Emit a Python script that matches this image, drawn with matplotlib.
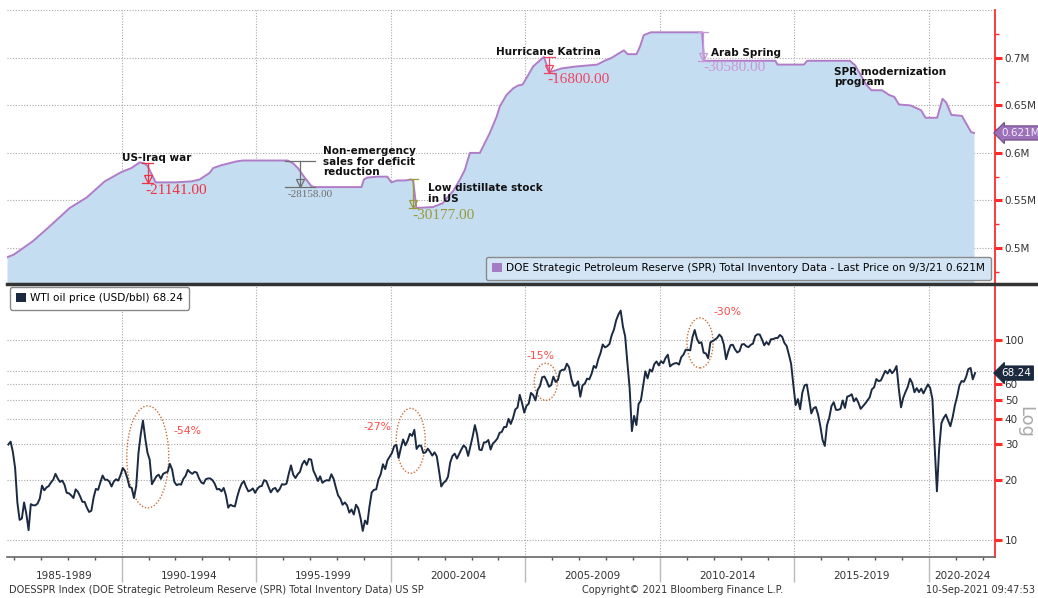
import numpy as np
import pandas as pd
import matplotlib
matplotlib.use("Agg")
import matplotlib.pyplot as plt
from matplotlib import transforms as mtransforms
from matplotlib.lines import Line2D
from matplotlib.patches import Patch, Ellipse
from matplotlib.ticker import NullLocator, NullFormatter

# --- SPR total inventory (M = million thousand-barrels) ---
spr_year = [1985.74, 1986.0, 1986.7, 1987.3, 1988.07, 1988.7, 1989.37, 1990.0, 1990.36, 1990.67,
            1990.85, 1990.97, 1991.26, 1992.0, 1992.6, 1992.9, 1993.27, 1993.4, 1993.7, 1994.26,
            1994.5, 1996.17, 1996.37, 1996.55, 1996.8, 1997.05, 1997.17, 1998.91, 1999.0, 1999.13,
            1999.5, 1999.87, 2000.02, 2000.24, 2000.55, 2000.74, 2000.83, 2000.95, 2001.57, 2001.93,
            2002.07, 2002.32, 2002.57, 2002.75, 2002.94, 2003.31, 2003.68, 2003.93, 2004.05, 2004.3,
            2004.55, 2004.73, 2004.9, 2005.29, 2005.56, 2005.69, 2005.89, 2006.02, 2006.35, 2006.88,
            2007.67, 2007.94, 2008.2, 2008.54, 2008.66, 2008.8, 2009.13, 2009.26, 2009.4, 2009.66,
            2011.57, 2011.64, 2011.95, 2014.29, 2014.37, 2015.35, 2015.47, 2017.06, 2017.26, 2017.46,
            2017.66, 2017.86, 2018.25, 2018.52, 2018.71, 2018.88, 2019.31, 2019.7, 2019.87, 2020.3,
            2020.5, 2020.64, 2020.83, 2021.22, 2021.56, 2021.67]
spr_level = [0.490, 0.493, 0.507, 0.522, 0.542, 0.553, 0.570, 0.580, 0.584, 0.590,
             0.589, 0.586, 0.569, 0.569, 0.570, 0.572, 0.579, 0.584, 0.587, 0.591,
             0.592, 0.592, 0.589, 0.584, 0.574, 0.565, 0.564, 0.564, 0.572, 0.574,
             0.575, 0.575, 0.569, 0.571, 0.571, 0.572, 0.571, 0.542, 0.543, 0.547,
             0.552, 0.560, 0.572, 0.582, 0.600, 0.600, 0.621, 0.638, 0.649, 0.661,
             0.668, 0.671, 0.672, 0.691, 0.698, 0.701, 0.685, 0.686, 0.689, 0.691,
             0.693, 0.697, 0.700, 0.706, 0.708, 0.704, 0.704, 0.712, 0.724, 0.727,
             0.727, 0.697, 0.697, 0.697, 0.693, 0.693, 0.697, 0.697, 0.692, 0.682,
             0.672, 0.666, 0.666, 0.661, 0.659, 0.651, 0.650, 0.645, 0.637, 0.637,
             0.657, 0.653, 0.640, 0.639, 0.622, 0.621]

# --- WTI oil price, monthly from Oct 1985 (USD/bbl) ---
wti_start = "1985-10-01"
wti_price = [
    30.0, 31.0, 27.5,
    22.9, 15.4, 12.6, 12.8, 15.4, 13.5, 11.2, 15.1, 14.9, 14.9, 15.2, 16.1,
    18.7, 17.7, 18.3, 18.6, 19.4, 20.0, 21.4, 20.3, 19.5, 19.8, 18.9, 17.2,
    17.1, 16.7, 16.2, 17.9, 17.4, 16.5, 15.5, 15.5, 14.5, 13.8, 14.0, 16.3,
    18.0, 17.8, 19.4, 21.0, 20.0, 20.0, 19.6, 18.5, 19.6, 20.1, 19.8, 21.1,
    22.9, 22.1, 20.4, 18.4, 18.2, 16.2, 18.6, 27.2, 33.7, 39.5, 32.3, 27.3,
    25.2, 19.0, 19.9, 20.8, 21.2, 20.2, 21.4, 21.7, 21.9, 24.0, 22.5, 19.5,
    18.8, 19.0, 18.9, 20.2, 20.9, 22.4, 21.8, 21.4, 21.9, 21.7, 20.3, 19.4,
    19.1, 20.1, 20.3, 20.3, 19.9, 19.1, 17.9, 18.0, 17.5, 18.2, 16.7, 14.5,
    15.0, 14.8, 14.7, 16.4, 17.9, 19.1, 19.7, 18.4, 17.5, 17.7, 18.1, 17.2,
    18.0, 18.5, 18.6, 19.9, 19.7, 18.4, 17.3, 18.0, 18.2, 17.4, 18.0, 19.0,
    18.9, 19.1, 21.4, 23.6, 21.2, 20.4, 21.3, 21.9, 23.9, 24.9, 23.7, 25.4,
    25.2, 22.2, 21.0, 19.7, 20.8, 19.3, 19.7, 19.9, 19.8, 21.3, 20.2, 18.3,
    16.7, 16.1, 15.0, 15.4, 14.9, 13.7, 14.2, 13.4, 15.0, 14.4, 12.9, 11.1,
    12.5, 12.0, 14.7, 17.3, 17.8, 17.9, 20.1, 21.3, 23.9, 22.6, 25.0, 26.1,
    27.2, 29.4, 29.9, 25.7, 28.8, 31.8, 29.7, 31.3, 33.9, 33.1, 35.5, 28.5,
    29.6, 29.6, 27.2, 27.4, 28.6, 27.6, 26.4, 27.4, 26.2, 22.2, 18.5, 19.3,
    19.7, 20.7, 24.4, 26.3, 27.0, 25.5, 26.9, 28.4, 29.7, 28.9, 26.3, 29.4,
    32.9, 37.5, 33.6, 28.3, 28.1, 30.7, 30.8, 31.6, 28.3, 30.3, 31.1, 32.1,
    34.3, 34.7, 36.7, 36.7, 40.3, 38.0, 40.7, 44.9, 45.9, 53.1, 48.5, 43.3,
    46.8, 48.0, 54.3, 53.0, 49.8, 56.3, 58.7, 65.0, 65.6, 62.4, 58.3, 59.4,
    65.5, 61.6, 62.9, 69.7, 70.9, 70.9, 76.0, 73.0, 63.8, 58.9, 59.1, 62.0,
    52.0, 59.3, 60.4, 64.0, 63.5, 67.5, 74.1, 72.4, 79.9, 85.8, 94.8, 91.7,
    93.0, 95.4, 105.5, 112.6, 125.4, 133.9, 140.0, 116.7, 104.1, 76.6, 57.3, 35.0,
    41.7, 37.5, 47.9, 49.7, 59.0, 69.6, 64.2, 71.1, 69.4, 75.7, 78.0, 74.5,
    78.3, 76.4, 81.2, 84.3, 73.7, 75.3, 76.3, 76.6, 75.2, 81.9, 84.3, 89.2,
    89.2, 88.6, 102.9, 112.0, 101.3, 96.3, 97.3, 86.3, 85.5, 81.0, 97.2, 98.6,
    100.3, 102.2, 106.2, 103.3, 94.7, 80.0, 87.9, 94.1, 94.5, 89.5, 86.5, 87.9,
    94.8, 95.3, 92.9, 92.0, 94.5, 95.8, 104.6, 106.6, 106.3, 100.5, 93.9, 97.6,
    94.6, 100.8, 100.8, 102.1, 102.2, 105.8, 103.6, 96.5, 93.2, 84.4, 75.8, 59.3,
    47.2, 50.6, 45.0, 54.5, 59.3, 59.8, 50.9, 42.9, 45.5, 46.2, 42.4, 37.2,
    31.7, 29.5, 37.5, 40.8, 46.7, 48.8, 44.7, 44.7, 45.2, 49.8, 45.7, 52.0,
    52.5, 53.5, 49.3, 51.1, 48.5, 45.2, 46.6, 48.0, 49.8, 51.6, 56.6, 57.9,
    63.7, 62.2, 62.7, 66.3, 70.0, 67.9, 71.0, 68.1, 70.2, 74.0, 57.0, 46.0,
    51.4, 54.9, 58.2, 64.0, 60.8, 54.7, 57.4, 54.8, 57.0, 54.0, 57.0, 59.9,
    57.5, 50.5, 29.2, 17.5, 28.6, 38.3, 40.7, 42.3, 39.6, 37.0, 41.0, 47.0,
    52.0, 59.0, 62.3, 61.7, 65.2, 71.4, 72.4, 63.5, 68.24,
]

# --- event annotations ---
event_name = ["US-Iraq war", "Non-emergency\nsales for deficit\nreduction",
              "Low distillate stock\nin US", "Hurricane Katrina", "Arab Spring"]
event_year = [1990.97, 1996.62, 2000.83, 2005.89, 2011.6]
event_top = [0.5895, 0.592, 0.572, 0.7014, 0.7276]
event_change = [-21141.00, -28158.00, -30177.00, -16800.00, -30580.00]
swing_pct = ["-54%", "-27%", "-15%", "-30%"]
period_start = [1985, 1990, 1995, 2000, 2005, 2010, 2015, 2020]

# convert monthly dates to decimal years (mid-month)
dates = pd.date_range(wti_start, periods=len(wti_price), freq="MS")
wti_year = dates.year + (dates.month - 0.5) / 12.0

W, H = 1038, 598
fig = plt.figure(figsize=(W / 100, H / 100), dpi=100)
fig.patch.set_facecolor("white")

def fx(px):
    return px / W

def fy(py):
    return 1 - py / H

ax_top = fig.add_axes([fx(7), fy(283), fx(995) - fx(7), fy(10) - fy(283)])
ax_bot = fig.add_axes([fx(7), fy(557), fx(995) - fx(7), fy(285) - fy(557)])

RED = "#ff2a2a"
GRID = dict(color="#a8a8a8", linestyle=(0, (1, 1.5)), linewidth=0.8)
XLIM = (1985.74, 2022.45)
five_years = list(range(1990, 2021, 5))

for ax in (ax_top, ax_bot):
    ax.set_xlim(*XLIM)
    for s in ("left", "top"):
        ax.spines[s].set_visible(False)
    ax.spines["right"].set_color(RED)
    ax.spines["right"].set_linewidth(1.3)
    ax.yaxis.tick_right()
    ax.set_xticks(five_years)
    ax.set_xticklabels([])
    ax.grid(True, which="major", **GRID)
    ax.set_axisbelow(True)

# ---------- top panel: SPR inventory ----------
ax_top.spines["bottom"].set_visible(False)
ax_top.set_ylim(0.463, 0.7505)
ax_top.fill_between(spr_year, spr_level, 0.4, color="#c5ddf1", lw=0)
ax_top.plot(spr_year, spr_level, color="#b07cc8", lw=1.4)
ax_top.axhline(0.75, **GRID)
ax_top.set_yticks([0.5, 0.55, 0.6, 0.65, 0.7])
ax_top.set_yticklabels(["0.5M", "0.55M", "0.6M", "0.65M", "0.7M"])
ax_top.set_yticks([0.475, 0.525, 0.575, 0.625, 0.675, 0.725], minor=True)
ax_top.tick_params(axis="y", which="major", colors=RED, labelcolor="#333333",
                   length=5, width=2.2, labelsize=7.5, pad=2)
ax_top.tick_params(axis="y", which="minor", colors=RED, length=3, width=1)
ax_top.tick_params(axis="x", length=0)

# drawdown brackets and their labels
bracket_color = ["#ee3344", "#6e6e6e", "#9a9a3c", "#ee4466", "#c797d8"]
bracket_half = [0.2, 0.55, 0.17, 0.2, 0.2]
for yr, top, chg, col, half in zip(event_year, event_top, event_change, bracket_color, bracket_half):
    bot = top + chg / 1e6
    ax_top.plot([yr - half, yr + half], [top, top], color=col, lw=0.9)
    ax_top.plot([yr, yr], [top, bot], color=col, lw=0.9)
    ax_top.plot([yr - half, yr + half], [bot, bot], color=col, lw=0.9)
    up = mtransforms.offset_copy(ax_top.transData, fig=fig, y=4, units="dots")
    ax_top.plot([yr], [bot], marker="v", ms=6, mfc="none", mec=col, mew=0.9, transform=up)

name_pos = [(1990.0, 0.5950, "center"), (1997.47, 0.6070, "top"), (2001.38, 0.5680, "top"),
            (2003.9, 0.7063, "center"), (2011.9, 0.7052, "center")]
for name, (x, y, va) in zip(event_name, name_pos):
    ax_top.text(x, y, name, fontsize=7.5, fontweight="bold", color="#111111",
                ha="left", va=va, linespacing=1.05)
ax_top.text(2016.47, 0.6905, "SPR modernization\nprogram", fontsize=7.5, fontweight="bold",
            color="#111111", ha="left", va="top", linespacing=1.05)

value_pos = [(1990.89, 0.5604, 11), (1996.17, 0.5562, 8), (2000.82, 0.5341, 11),
             (2005.8, 0.6769, 11), (2011.6, 0.6895, 11)]
for chg, col, (x, y, fs) in zip(event_change, bracket_color, value_pos):
    ax_top.text(x, y, f"{chg:.2f}", fontsize=fs, color=col, family="Liberation Serif",
                ha="left", va="center")

# last value tag
tt = mtransforms.blended_transform_factory(ax_top.transAxes, ax_top.transData)
ax_top.text(1.0065, spr_level[-1], f"{spr_level[-1]:.3f}M", transform=tt, fontsize=7.5,
            color="#f4eaff", ha="left", va="center", clip_on=False,
            bbox=dict(boxstyle="larrow,pad=0.2", fc="#9c72b8", ec="#6e4a86", lw=0.8))

leg = ax_top.legend([Patch(facecolor="#a57cc4", edgecolor="none")],
                    [f"DOE Strategic Petroleum Reserve (SPR) Total Inventory Data - Last Price on 9/3/21 {spr_level[-1]:.3f}M"],
                    loc="lower right", bbox_to_anchor=(0.996, 0.012), fontsize=7.6, fancybox=True,
                    handlelength=0.9, handleheight=0.9, handletextpad=0.4, borderpad=0.6,
                    borderaxespad=0)
leg.get_frame().set_facecolor("#d3e5f5")
leg.get_frame().set_edgecolor("#8a8a8a")
leg.get_frame().set_alpha(1)

# ---------- bottom panel: WTI price (log) ----------
ax_bot.set_yscale("log")
ax_bot.set_ylim(8.22, 188)
ax_bot.plot(wti_year, wti_price, color="#1b2a41", lw=1.4)
ax_bot.spines["bottom"].set_color("#666666")
ax_bot.spines["bottom"].set_linewidth(1.2)
ax_bot.set_yticks([10, 20, 30, 40, 50, 60, 70, 100])
ax_bot.set_yticklabels(["10", "20", "30", "40", "50", "60", "", "100"])
ax_bot.yaxis.set_minor_locator(NullLocator())
ax_bot.yaxis.set_minor_formatter(NullFormatter())
ax_bot.tick_params(axis="y", which="major", colors=RED, labelcolor="#333333",
                   length=5, width=2.2, labelsize=7.5, pad=2)
ax_bot.set_xticks(list(range(1986, 2023)), minor=True)
ax_bot.tick_params(axis="x", which="major", length=18, width=1, color="#bbbbbb", direction="out")
ax_bot.tick_params(axis="x", which="minor", length=2.5, width=1, color="#555555", direction="out")

fig.text(fx(1025), fy(422), "Log", rotation=270, fontsize=13, color="#aaaaaa",
         ha="center", va="center")

bt = mtransforms.blended_transform_factory(ax_bot.transAxes, ax_bot.transData)
ax_bot.text(1.0065, wti_price[-1], f"{wti_price[-1]:.2f}", transform=bt, fontsize=7.5,
            color="white", ha="left", va="center", clip_on=False,
            bbox=dict(boxstyle="larrow,pad=0.2", fc="#1c2a3f", ec="#1c2a3f", lw=0.8))

leg2 = ax_bot.legend([Patch(facecolor="#1b2a41", edgecolor="none")],
                     [f"WTI oil price (USD/bbl) {wti_price[-1]:.2f}"],
                     loc="upper left", bbox_to_anchor=(0.003, 0.993), fontsize=7.6, fancybox=True,
                     handlelength=0.9, handleheight=0.9, handletextpad=0.4, borderpad=0.6,
                     borderaxespad=0)
leg2.get_frame().set_facecolor("white")
leg2.get_frame().set_edgecolor("#8a8a8a")
leg2.get_frame().set_alpha(1)

# dotted circles round the price swings
def axes_ellipse(ax, xc, yc, w_yr, h_dec):
    to_axes = ax.transData + ax.transAxes.inverted()
    cx, cy = to_axes.transform((xc, yc))
    lx, _ = to_axes.transform((xc - w_yr / 2, yc))
    _, ty = to_axes.transform((xc, yc * 10 ** (h_dec / 2)))
    ax.add_patch(Ellipse((cx, cy), 2 * (cx - lx), 2 * (ty - cy), transform=ax.transAxes,
                         fill=False, ec="#c8703a", lw=1.0, linestyle=(0, (1, 1.3))))

ellipse_pos = [(1990.97, 26.0, 1.56, 0.51), (2000.74, 31.3, 1.08, 0.325),
               (2005.76, 61.7, 0.86, 0.185), (2011.49, 96.6, 0.97, 0.25)]
for xc, yc, w, h in ellipse_pos:
    axes_ellipse(ax_bot, xc, yc, w, h)

pct_pos = [(1991.93, 35.1, "left"), (1999.52, 36.7, "center"),
           (2005.58, 83.2, "center"), (2012.53, 138.0, "center")]
for lab, (x, y, ha) in zip(swing_pct, pct_pos):
    ax_bot.text(x, y, lab, fontsize=7.8, color="#ff4a4a", ha=ha, va="center")

# period labels under the axis
lt = mtransforms.blended_transform_factory(ax_bot.transData, ax_bot.transAxes)
for s in period_start:
    a, b = max(s, XLIM[0]), min(s + 5, XLIM[1])
    ax_bot.text((a + b) / 2, -0.07, f"{s}-{s + 4}", transform=lt, fontsize=7.5,
                color="#333333", ha="center", va="center")

# panel separator
fig.add_artist(Line2D([fx(7), 1.0], [fy(283.5), fy(283.5)], color="#333333", lw=2.5))

# footer
fig.text(fx(9), fy(590), "DOESSPR Index (DOE Strategic Petroleum Reserve (SPR) Total Inventory Data) US SP",
         fontsize=7, color="#333333", ha="left", va="center")
fig.text(fx(683), fy(590), "Copyright\u00a9 2021 Bloomberg Finance L.P.", fontsize=7,
         color="#333333", ha="center", va="center")
fig.text(fx(1035), fy(590), "10-Sep-2021 09:47:53", fontsize=7, color="#333333",
         ha="right", va="center")

fig.savefig("out.png", dpi=100)
